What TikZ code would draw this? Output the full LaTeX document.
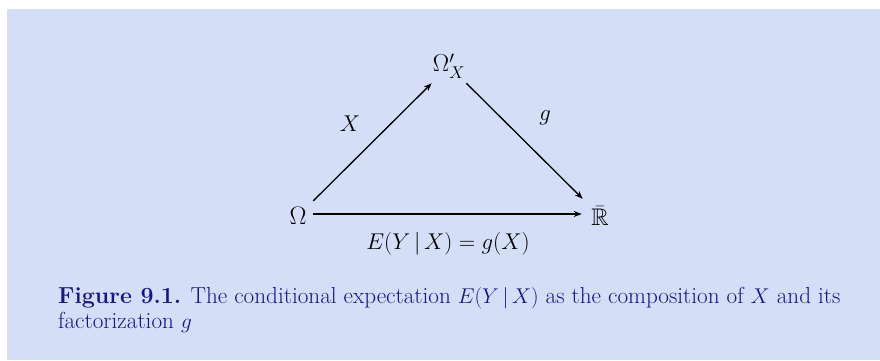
\documentclass[tikz,border=0pt]{standalone}
\usepackage{graphicx}
\usepackage{amssymb}
\usetikzlibrary{arrows.meta}
\definecolor{bgblue}{RGB}{212,222,247}
\definecolor{capblue}{RGB}{22,22,140}
\tikzset{
  obj/.style={inner sep=0pt, font=\fontsize{20}{24}\selectfont},
  lbl/.style={inner sep=0pt, font=\fontsize{20}{24}\selectfont},
  arr/.style={line width=1.3pt, -{Stealth[length=8pt,width=6pt,inset=2.5pt]}},
  captext/.style={inner sep=0pt, align=left, text=capblue, font=\fontsize{22.5}{23.5}\selectfont, scale=1.03, transform shape}
}
\begin{document}
\begin{tikzpicture}[x=1pt,y=-1pt]
\useasboundingbox (0,0) rectangle (880,360);
\fill[white] (0,0) rectangle (880,360);
\fill[bgblue] (7,9) rectangle (880,360);
\node[obj, minimum width=30pt, minimum height=30pt] (O) at (298,216) {\scalebox{1.22}{$\Omega$}};
\node[obj, minimum width=36pt, minimum height=34pt] (T) at (449,66) {\scalebox{1.18}{$\Omega'_X$}};
\node[obj, minimum width=36pt, minimum height=34pt] (R) at (600,216) {\scalebox{1.2}{$\bar{\mathbb{R}}$}};
\draw[arr] (O) -- (T);
\draw[arr] (T) -- (R);
\draw[arr] ([yshift=2pt]O.east) -- ([yshift=2pt]R.west);
\node[lbl, anchor=base] (lx) at (350,131) {\scalebox{1.1}{$X$}};
\node[lbl, anchor=base] (lg) at (545,120) {\scalebox{1.1}{$g$}};
\node[lbl, anchor=base] (le) at (448,249) {\scalebox{1.1}{$E(Y\,|\,X)=g(X)$}};
\node[captext, anchor=base west] (c) at (58,328) {\textbf{Figure 9.1.} The conditional expectation $E(Y\,|\,X)$ as the composition of $X$ and its\\factorization $g$};
\end{tikzpicture}
\end{document}
